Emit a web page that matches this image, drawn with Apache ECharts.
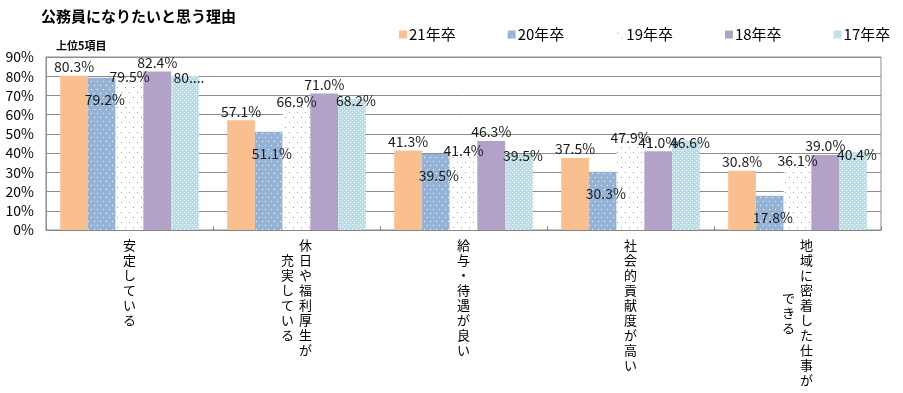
<!DOCTYPE html>
<html>
<head>
<meta charset="utf-8">
<script src="https://cdn.jsdelivr.net/npm/echarts@6/dist/echarts.min.js"></script>
<style>
html,body{margin:0;padding:0;background:#fff;}
#chart{width:903px;height:393px;}
</style>
</head>
<body>
<div id="chart"></div>
<script>
// ---- data ----
const categoriesCol1 = ['安定している', '休日や福利厚生が', '給与・待遇が良い', '社会的貢献度が高い', '地域に密着した仕事が'];
const categoriesCol2 = ['', '充実している', '', '', 'できる'];
const seriesNames = ['21年卒', '20年卒', '19年卒', '18年卒', '17年卒'];
const v21 = [80.3, 57.1, 41.3, 37.5, 30.8];
const v20 = [79.2, 51.1, 39.5, 30.3, 17.8];
const v19 = [79.5, 66.9, 41.4, 47.9, 36.1];
const v18 = [82.4, 71.0, 46.3, 41.0, 39.0];
const v17 = [80.1, 68.2, 39.5, 46.6, 40.4];
const labelOverride17 = ['80....', null, null, null, null];
const yTicks = [0, 10, 20, 30, 40, 50, 60, 70, 80, 90];
const titleText = '公務員になりたいと思う理由';
const subTitleText = '上位5項目';

const categories = categoriesCol1.map((c, i) => c + categoriesCol2[i]);
const FONT = 'Noto Sans CJK JP';

function pattern(w, h, bg, dot, dots) {
  const c = document.createElement('canvas');
  c.width = w; c.height = h;
  const ctx = c.getContext('2d');
  ctx.fillStyle = bg; ctx.fillRect(0, 0, w, h);
  ctx.fillStyle = dot;
  dots.forEach(d => ctx.fillRect(d[0], d[1], 1, 1));
  return {image: c, repeat: 'repeat'};
}
const colOrange = '#FABF8F';
const colBlue = pattern(6, 8, '#95B3D7', '#ffffff', [[1, 1], [4, 5]]);
const colWhiteDots = pattern(8, 10, '#ffffff', '#9a9a9a', [[1, 2], [5, 7]]);
const colPurple = '#B2A2C7';
const colCyan = pattern(4, 4, '#B7DEE8', '#ffffff', [[0, 0], [2, 2]]);

const ROW = 15;
function col1Fmt(value, idx) {
  const txt = categoriesCol1[idx] || '';
  const style = categoriesCol2[idx] ? 'r' : 'c';
  return txt.split('').map(ch => '{' + style + '|' + ch + '}').join('\n');
}
function col2Fmt(value, idx) {
  const txt = categoriesCol2[idx] || '';
  if (!txt) return '';
  const off = (categoriesCol1[idx].length - txt.length) / 2;
  const lines = txt.split('').map(ch => '{l|' + ch + '}');
  if (off > 0) lines.unshift('{sp' + Math.round(off * 2) + '|\u3000}');
  return lines.join('\n');
}
const richBase = {fontFamily: FONT, fontSize: 13, lineHeight: ROW, color: '#000'};
const rich2 = {l: Object.assign({}, richBase, {padding: [0, 18, 0, 0]})};
for (let k = 1; k <= 12; k++) rich2['sp' + k] = {fontSize: 1, lineHeight: k * ROW / 2, color: 'transparent'};

const labelBase = {show: true, fontFamily: FONT, fontSize: 14, color: '#1a1a1a'};
function fmt(p) { return p.value.toFixed(1) + '%'; }

const option = {
  animation: false,
  title: [
    {text: titleText, left: 36, top: 4, textStyle: {fontFamily: FONT, fontSize: 15, fontWeight: 'bold', color: '#000'}},
    {text: subTitleText, left: 51, top: 35, textStyle: {fontFamily: FONT, fontSize: 11, fontWeight: 'bold', color: '#000'}}
  ],
  legend: {
    data: seriesNames,
    left: 394, top: 22,
    itemWidth: 8, itemHeight: 8, itemGap: 52,
    icon: 'rect',
    textStyle: {fontFamily: FONT, fontSize: 15, color: '#000', padding: [0, 0, 0, -3]}
  },
  grid: {left: 46, right: 22, top: 57, bottom: 163, show: true, borderColor: '#8c8c8c', borderWidth: 1},
  xAxis: [
    {
      type: 'category', data: categories,
      axisLine: {lineStyle: {color: '#868686', width: 1}},
      axisTick: {show: true, inside: true, length: 4, lineStyle: {color: '#868686'}},
      axisLabel: {interval: 0, margin: 8, formatter: col1Fmt, hideOverlap: false,
        rich: {c: Object.assign({}, richBase), r: Object.assign({}, richBase, {padding: [0, 0, 0, 18]})}}
    },
    {
      type: 'category', data: categories, position: 'bottom', gridIndex: 0,
      axisLine: {show: false}, axisTick: {show: false}, splitLine: {show: false},
      axisLabel: {interval: 0, margin: 8, formatter: col2Fmt, hideOverlap: false, rich: rich2}
    }
  ],
  yAxis: {
    type: 'value', min: yTicks[0], max: yTicks[yTicks.length - 1], interval: 10,
    axisLine: {show: true, lineStyle: {color: '#8c8c8c'}},
    axisTick: {show: false},
    splitLine: {lineStyle: {color: '#8c8c8c', width: 1}},
    axisLabel: {formatter: '{value}%', fontFamily: FONT, fontSize: 14, color: '#000', margin: 12}
  },
  series: [
    {name: seriesNames[0], type: 'bar', data: v21, barGap: '0%', barCategoryGap: '17%',
      itemStyle: {color: colOrange}, label: Object.assign({}, labelBase, {position: 'top', distance: 2, formatter: fmt})},
    {name: seriesNames[1], type: 'bar', data: v20, barGap: '0%', barCategoryGap: '17%',
      itemStyle: {color: colBlue}, label: Object.assign({}, labelBase, {position: 'insideTop', offset: [3, 10], formatter: fmt})},
    {name: seriesNames[2], type: 'bar', data: v19, barGap: '0%', barCategoryGap: '17%',
      itemStyle: {color: colWhiteDots}, label: Object.assign({}, labelBase, {position: 'top', offset: [0, 12], formatter: fmt})},
    {name: seriesNames[3], type: 'bar', data: v18, barGap: '0%', barCategoryGap: '17%',
      itemStyle: {color: colPurple}, label: Object.assign({}, labelBase, {position: 'top', distance: 2, formatter: fmt})},
    {name: seriesNames[4], type: 'bar', data: v17, barGap: '0%', barCategoryGap: '17%',
      itemStyle: {color: colCyan}, label: Object.assign({}, labelBase, {position: 'top', offset: [4, 14],
        formatter: p => labelOverride17[p.dataIndex] || fmt(p)})}
  ]
};
const chart = echarts.init(document.getElementById('chart'), null, {renderer: 'canvas'});
chart.setOption(option);
</script>
</body>
</html>
